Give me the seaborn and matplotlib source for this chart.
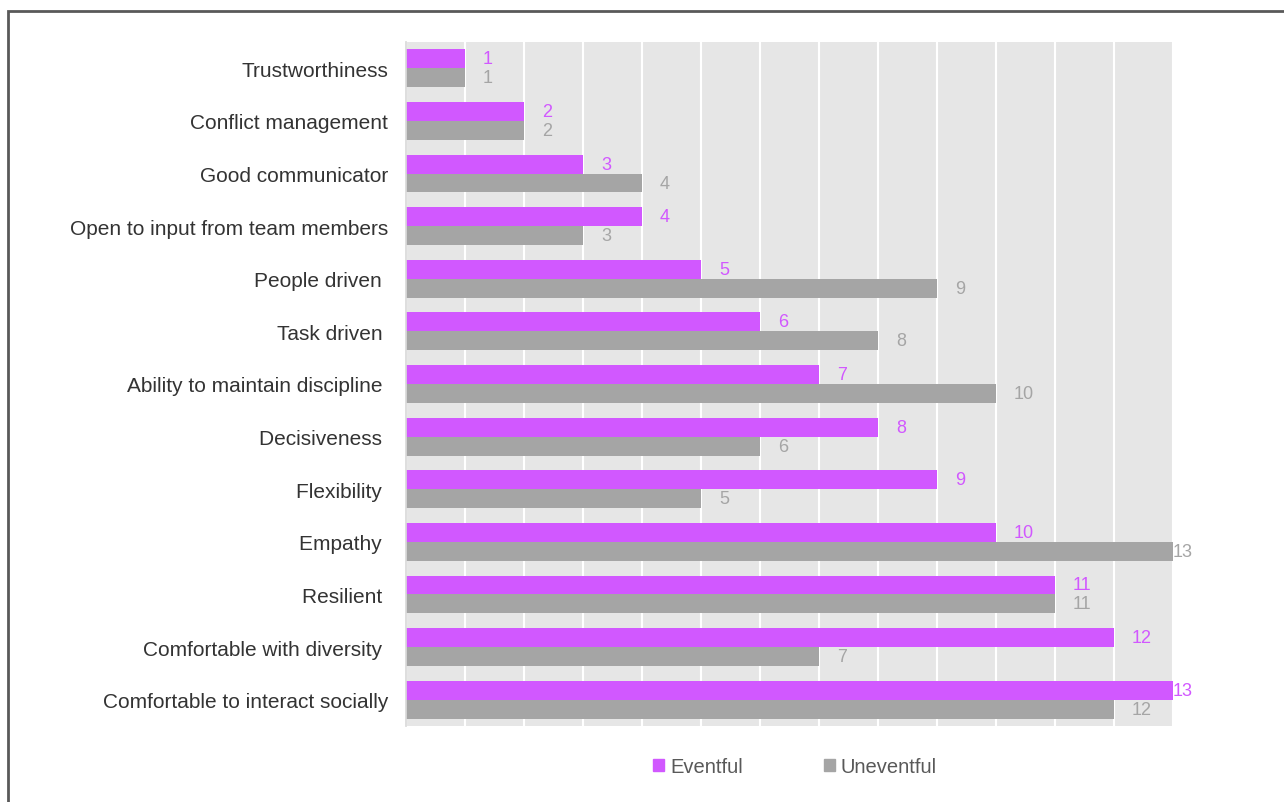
import numpy as np
import pandas as pd
import matplotlib
matplotlib.use("Agg")
import matplotlib.pyplot as plt
import matplotlib.patches as mpatches
import seaborn as sns

# ── Data ─────────────────────────────────────────────────────────────────────
traits = ['Trustworthiness', 'Conflict management', 'Good communicator',
          'Open to input from team members', 'People driven ', 'Task driven ',
          'Ability to maintain discipline ', 'Decisiveness ', 'Flexibility ',
          'Empathy ', 'Resilient ', 'Comfortable with diversity ',
          'Comfortable to interact socially']
eventful = [1, 2, 3, 4, 5, 6, 7, 8, 9, 10, 11, 12, 13]
uneventful = [1, 2, 4, 3, 9, 8, 10, 6, 5, 13, 11, 7, 12]
groups = ['Eventful', 'Uneventful']

df = pd.DataFrame({
    'trait': traits * 2,
    'count': eventful + uneventful,
    'group': [groups[0]] * len(traits) + [groups[1]] * len(traits),
})

# ── Plot ─────────────────────────────────────────────────────────────────────
PURPLE, GREY, BG = '#D158FF', '#A5A5A5', '#E6E6E6'
sns.set_theme(style='white')
plt.rcParams['font.family'] = ['Liberation Sans', 'DejaVu Sans']

fig = plt.figure(figsize=(12.84, 8.03), dpi=100)
ax = fig.add_axes([406 / 1284, 1 - 727 / 803, (1173 - 406) / 1284, (727 - 43) / 803])

sns.barplot(data=df, y='trait', x='count', hue='group', order=traits,
            hue_order=groups, palette={groups[0]: PURPLE, groups[1]: GREY},
            orient='h', width=0.72, gap=0, saturation=1, linewidth=0,
            ax=ax, legend=False)

ax.set_facecolor(BG)
ax.set_xlim(0, 13)
ax.set_ylim(12.5, -0.5)
ax.set_xticks(np.arange(0, 14))
ax.set_xticklabels([])
ax.grid(axis='x', color='white', linewidth=1.5)
ax.set_axisbelow(True)
ax.tick_params(axis='both', length=0)
ax.tick_params(axis='y', pad=13, labelsize=15, labelcolor='#333333')
ax.set_xlabel('')
ax.set_ylabel('')
for side in ['top', 'right', 'bottom']:
    ax.spines[side].set_visible(False)
ax.spines['left'].set_color('#D9D9D9')

# value labels
for cont, color in zip(ax.containers, [PURPLE, GREY]):
    labels = ax.bar_label(cont, padding=13, color=color, fontsize=13)
    for bar, txt in zip(cont, labels):
        if bar.get_width() >= 13:
            txt.xyann = (0, txt.xyann[1])

# legend
handles = [mpatches.Patch(color=PURPLE, label=groups[0]),
           mpatches.Patch(color=GREY, label=groups[1])]
fig.legend(handles=handles, loc='center', bbox_to_anchor=(795 / 1284, 1 - 768 / 803),
           ncol=2, frameon=False, fontsize=14.5, handlelength=0.55, handleheight=0.55,
           handletextpad=0.3, columnspacing=4.0, labelcolor='#595959')

# outer border
fig.patches.append(mpatches.Rectangle((8 / 1284, -0.05), 1.2, 1.05 - 12 / 803,
                                      transform=fig.transFigure, fill=False,
                                      edgecolor='#595959', linewidth=2))

plt.savefig('out.png', dpi=100)
